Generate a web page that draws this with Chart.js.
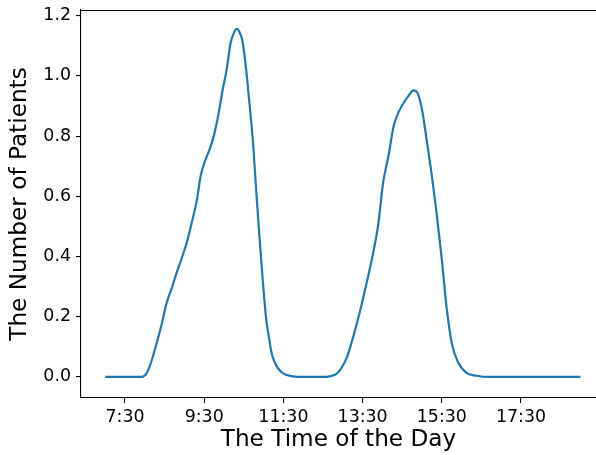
<!DOCTYPE html>
<html>
<head>
<meta charset="utf-8">
<script src="https://cdn.jsdelivr.net/npm/chart.js@4"></script>
<style>
html, body { margin: 0; padding: 0; background: #fff; }
#wrap { width: 596px; height: 455px; }
</style>
</head>
<body>
<div id="wrap"><canvas id="patientChart" width="596" height="455"></canvas></div>
<script>
// minutes after midnight
const minutes = [420, 450, 475, 483, 490, 498, 506, 513, 521, 528, 536, 544, 551, 559, 565, 571, 579, 585, 591, 598,
    604, 610, 615, 619, 623, 628, 633, 638, 644, 649, 654, 659, 664, 667, 672, 677, 682, 690, 705, 720, 750,
    760, 771, 778, 786, 796, 806, 816, 826, 834, 841, 849, 857, 864, 872, 879, 887, 893, 900, 907, 915, 922,
    930, 937, 945, 955, 968, 983, 1000, 1140];
const patients = [0, 0, 0, 0.013, 0.052, 0.113, 0.179, 0.246, 0.296, 0.345, 0.395, 0.45, 0.511, 0.589, 0.672, 0.716, 0.761, 0.805, 0.866, 0.954,
    1.021, 1.11, 1.143, 1.156, 1.148, 1.115, 1.032, 0.921, 0.777, 0.611, 0.456, 0.312, 0.19, 0.146, 0.08, 0.048, 0.028, 0.011, 0.002, 0, 0,
    0.002, 0.011, 0.03, 0.064, 0.135, 0.218, 0.312, 0.412, 0.512, 0.645, 0.733, 0.833, 0.877, 0.91, 0.932, 0.952, 0.944, 0.888, 0.788, 0.666, 0.545,
    0.39, 0.235, 0.113, 0.047, 0.013, 0.004, 0, 0];
const tickLabels = ['7:30', '9:30', '11:30', '13:30', '15:30', '17:30'];
const yTicks = [0, 0.2, 0.4, 0.6, 0.8, 1.0, 1.2];

function toMinutes(label) {
    const p = label.split(':');
    return Number(p[0]) * 60 + Number(p[1]);
}
const tickValues = tickLabels.map(toMinutes);

const fontFamily = "'DejaVu Sans', sans-serif";

// matplotlib draws a top spine, chart.js doesn't
const topSpine = {
    id: 'topSpine',
    afterDraw(chart) {
        const { ctx, chartArea } = chart;
        ctx.save();
        ctx.strokeStyle = '#000';
        ctx.lineWidth = 1.1;
        ctx.beginPath();
        ctx.moveTo(chartArea.left, chartArea.top + 0.5);
        ctx.lineTo(chartArea.right, chartArea.top + 0.5);
        ctx.stroke();
        ctx.restore();
    }
};

const ctx = document.getElementById('patientChart').getContext('2d');
new Chart(ctx, {
    type: 'line',
    data: {
        datasets: [{
            data: minutes.map((m, i) => ({ x: m, y: patients[i] })),
            borderColor: '#1f77b4',
            borderWidth: 2.2,
            pointRadius: 0,
            cubicInterpolationMode: 'monotone',
            fill: false
        }]
    },
    options: {
        responsive: false,
        animation: false,
        devicePixelRatio: 1,
        layout: { padding: { top: 10, right: 0, bottom: 0, left: 0 } },
        plugins: { legend: { display: false }, tooltip: { enabled: false } },
        scales: {
            x: {
                type: 'linear',
                min: 383.3,
                max: 1163.6,
                afterBuildTicks(scale) {
                    scale.ticks = tickValues.map(v => ({ value: v }));
                },
                afterFit(scale) {
                    scale.height = 57;
                    scale.paddingLeft = 0;
                    scale.paddingRight = 0;
                },
                grid: { drawOnChartArea: false, drawTicks: true, tickLength: 5, color: '#000', lineWidth: 1.1 },
                border: { display: true, color: '#000', width: 1.1 },
                ticks: {
                    autoSkip: false,
                    maxRotation: 0,
                    padding: 4,
                    color: '#000',
                    font: { family: fontFamily, size: 17.4 },
                    callback: (v) => {
                        const i = tickValues.indexOf(v);
                        return i >= 0 ? tickLabels[i] : '';
                    }
                },
                title: {
                    display: true,
                    text: 'The Time of the Day',
                    color: '#000',
                    font: { family: fontFamily, size: 23.2 },
                    padding: { top: 0, bottom: 1 }
                }
            },
            y: {
                min: -0.07,
                max: 1.219,
                afterBuildTicks(scale) {
                    scale.ticks = yTicks.map(v => ({ value: v }));
                },
                afterFit(scale) {
                    scale.width = 81;
                    scale.paddingTop = 0;
                    scale.paddingBottom = 0;
                },
                grid: { drawOnChartArea: false, drawTicks: true, tickLength: 5, color: '#000', lineWidth: 1.1 },
                border: { display: true, color: '#000', width: 1.1 },
                ticks: {
                    padding: 5,
                    color: '#000',
                    font: { family: fontFamily, size: 17.4 },
                    callback: (v) => Number(v).toFixed(1)
                },
                title: {
                    display: true,
                    text: 'The Number of Patients',
                    color: '#000',
                    font: { family: fontFamily, size: 23.2 },
                    padding: { top: 6, bottom: 0 }
                }
            }
        }
    },
    plugins: [topSpine]
});
</script>
</body>
</html>
